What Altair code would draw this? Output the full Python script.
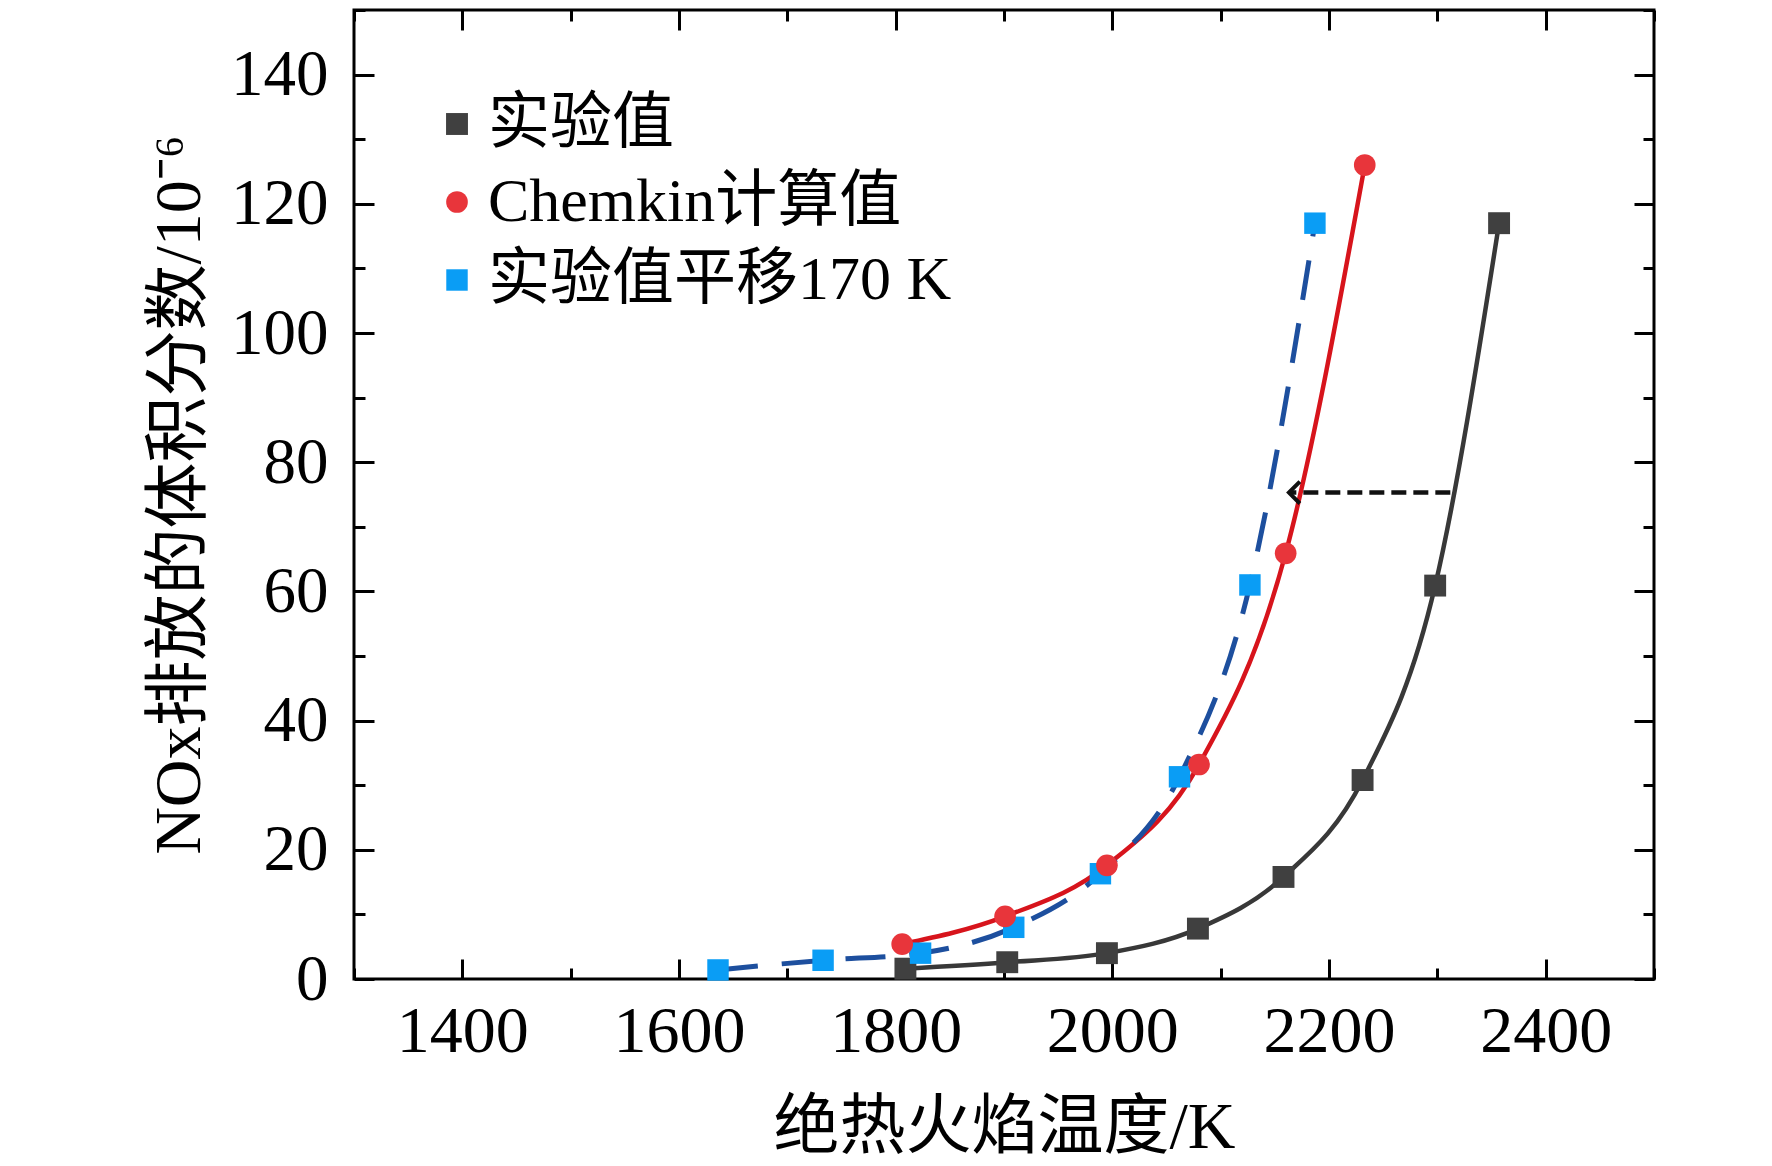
import altair as alt
import pandas as pd

# ---- data ----
series_names = ["实验值", "Chemkin计算值", "实验值平移170 K"]

exp_T = [1809, 1903, 1995, 2079, 2158, 2231, 2298, 2357]
exp_NOx = [1.6, 2.6, 4.0, 7.8, 15.8, 30.8, 60.9, 117.0]

chem_T = [1806, 1901, 1995, 2080, 2160, 2233]
chem_NOx = [5.4, 9.7, 17.6, 33.2, 65.9, 126.0]

shift_T = [1636, 1733, 1823, 1909, 1989, 2062, 2127, 2187]
shift_NOx = [1.4, 2.9, 4.0, 8.0, 16.3, 31.3, 61.0, 117.0]

arrow_T_from = [2312]
arrow_T_to = [2163]
arrow_NOx = [75.3]

x_major = [1400, 1600, 1800, 2000, 2200, 2400]
x_minor = [1300, 1500, 1700, 1900, 2100, 2300, 2500]
y_major = [0, 20, 40, 60, 80, 100, 120, 140]
y_minor = [10, 30, 50, 70, 90, 110, 130, 150]

# ---- tables ----
df_exp = pd.DataFrame({"T": exp_T, "NOx": exp_NOx, "series": series_names[0]})
df_chem = pd.DataFrame({"T": chem_T, "NOx": chem_NOx, "series": series_names[1]})
df_shift = pd.DataFrame({"T": shift_T, "NOx": shift_NOx, "series": series_names[2]})
df_pts = pd.concat([df_exp, df_shift, df_chem], ignore_index=True)
df_arrow = pd.DataFrame({"T": arrow_T_from, "T2": arrow_T_to, "NOx": arrow_NOx})
df_head = pd.DataFrame({"T": arrow_T_to, "NOx": arrow_NOx})

SERIF = "Liberation Serif, Noto Sans CJK SC, serif"

xs = alt.Scale(domain=[1300, 2500], nice=False, zero=False)
ys = alt.Scale(domain=[0, 150], nice=False, zero=False)


def X(axis=None):
    return alt.X("T:Q", scale=xs, axis=axis)


def Y(axis=None):
    return alt.Y("NOx:Q", scale=ys, axis=axis)


line_exp = alt.Chart(df_exp).mark_line(
    color="#383838", strokeWidth=4.5, interpolate="monotone"
).encode(x=X(), y=Y())

line_chem = alt.Chart(df_chem).mark_line(
    color="#d7141c", strokeWidth=4.5, interpolate="monotone"
).encode(x=X(), y=Y())

line_shift = alt.Chart(df_shift).mark_line(
    color="#1d4f9e", strokeWidth=5, strokeDash=[40, 24], interpolate="monotone"
).encode(x=X(), y=Y())

arrow_line = alt.Chart(df_arrow).mark_rule(
    color="#111111", strokeWidth=4.5, strokeDash=[15, 7]
).encode(x=X(), x2="T2:Q", y=Y())

arrow_head = alt.Chart(df_head).mark_point(
    shape="M1,-1L0,0L1,1", filled=False, color="#111111", strokeWidth=4, size=480, opacity=1
).encode(x=X(), y=Y())

legend_cfg = dict(
    title=None,
    orient="none",
    legendX=72,
    legendY=83,
    labelFont=SERIF,
    labelFontSize=62,
    labelColor="black",
    labelOffset=0,
    labelLimit=0,
    rowPadding=16,
    symbolSize=380,
    symbolStrokeWidth=0,
    padding=0,
)

points = alt.Chart(df_pts).mark_point(filled=True, opacity=1).encode(
    x=X(),
    y=Y(),
    color=alt.Color(
        "series:N",
        scale=alt.Scale(domain=series_names, range=["#404040", "#e8353b", "#0a9df5"]),
        legend=alt.Legend(**legend_cfg),
    ),
    shape=alt.Shape(
        "series:N",
        scale=alt.Scale(domain=series_names, range=["square", "circle", "square"]),
        legend=alt.Legend(**legend_cfg),
    ),
    size=alt.Size(
        "series:N",
        scale=alt.Scale(domain=series_names, range=[480, 460, 480]),
        legend=None,
    ),
)


def tick_axis(orient, values, length):
    return alt.Axis(
        orient=orient,
        values=values,
        labels=False,
        domain=False,
        grid=False,
        ticks=True,
        tickSize=length,
        tickWidth=3,
        tickColor="black",
        offset=-length,
        title=None,
    )


def axis_layer(xaxis, yaxis):
    return alt.Chart(df_pts).mark_point(opacity=0).encode(x=X(xaxis), y=Y(yaxis))


label_layer = axis_layer(
    alt.Axis(
        orient="bottom",
        values=x_major,
        ticks=False,
        domain=False,
        grid=False,
        format="d",
        labelFont=SERIF,
        labelFontSize=66,
        labelColor="black",
        labelPadding=20,
        title="绝热火焰温度/K",
        titleFont=SERIF,
        titleFontSize=66,
        titleFontWeight="normal",
        titleColor="black",
        titlePadding=31,
    ),
    alt.Axis(
        orient="left",
        values=y_major,
        ticks=False,
        domain=False,
        grid=False,
        format="d",
        labelFont=SERIF,
        labelFontSize=65,
        labelColor="black",
        labelPadding=26,
        title="NOx排放的体积分数/10⁻⁶",
        titleFont=SERIF,
        titleFontSize=66,
        titleFontWeight="normal",
        titleColor="black",
        titlePadding=17,
    ),
)

tick_layers = [
    axis_layer(tick_axis("bottom", x_major, 20), tick_axis("left", y_major, 20)),
    axis_layer(tick_axis("bottom", x_minor, 11), tick_axis("left", y_minor, 11)),
    axis_layer(tick_axis("top", x_major, 20), tick_axis("right", y_major, 20)),
    axis_layer(tick_axis("top", x_minor, 11), tick_axis("right", y_minor, 11)),
]

chart = (
    alt.layer(
        line_exp,
        line_chem,
        line_shift,
        arrow_line,
        arrow_head,
        points,
        label_layer,
        *tick_layers,
    )
    .resolve_axis(x="independent", y="independent")
    .properties(
        width=1300,
        height=969,
        padding={"left": 138, "top": 0, "right": 10, "bottom": 0},
        background="white",
    )
    .configure_view(stroke="black", strokeWidth=3)
)

chart.save("out.html", embed_options={"renderer": "svg", "actions": False})
